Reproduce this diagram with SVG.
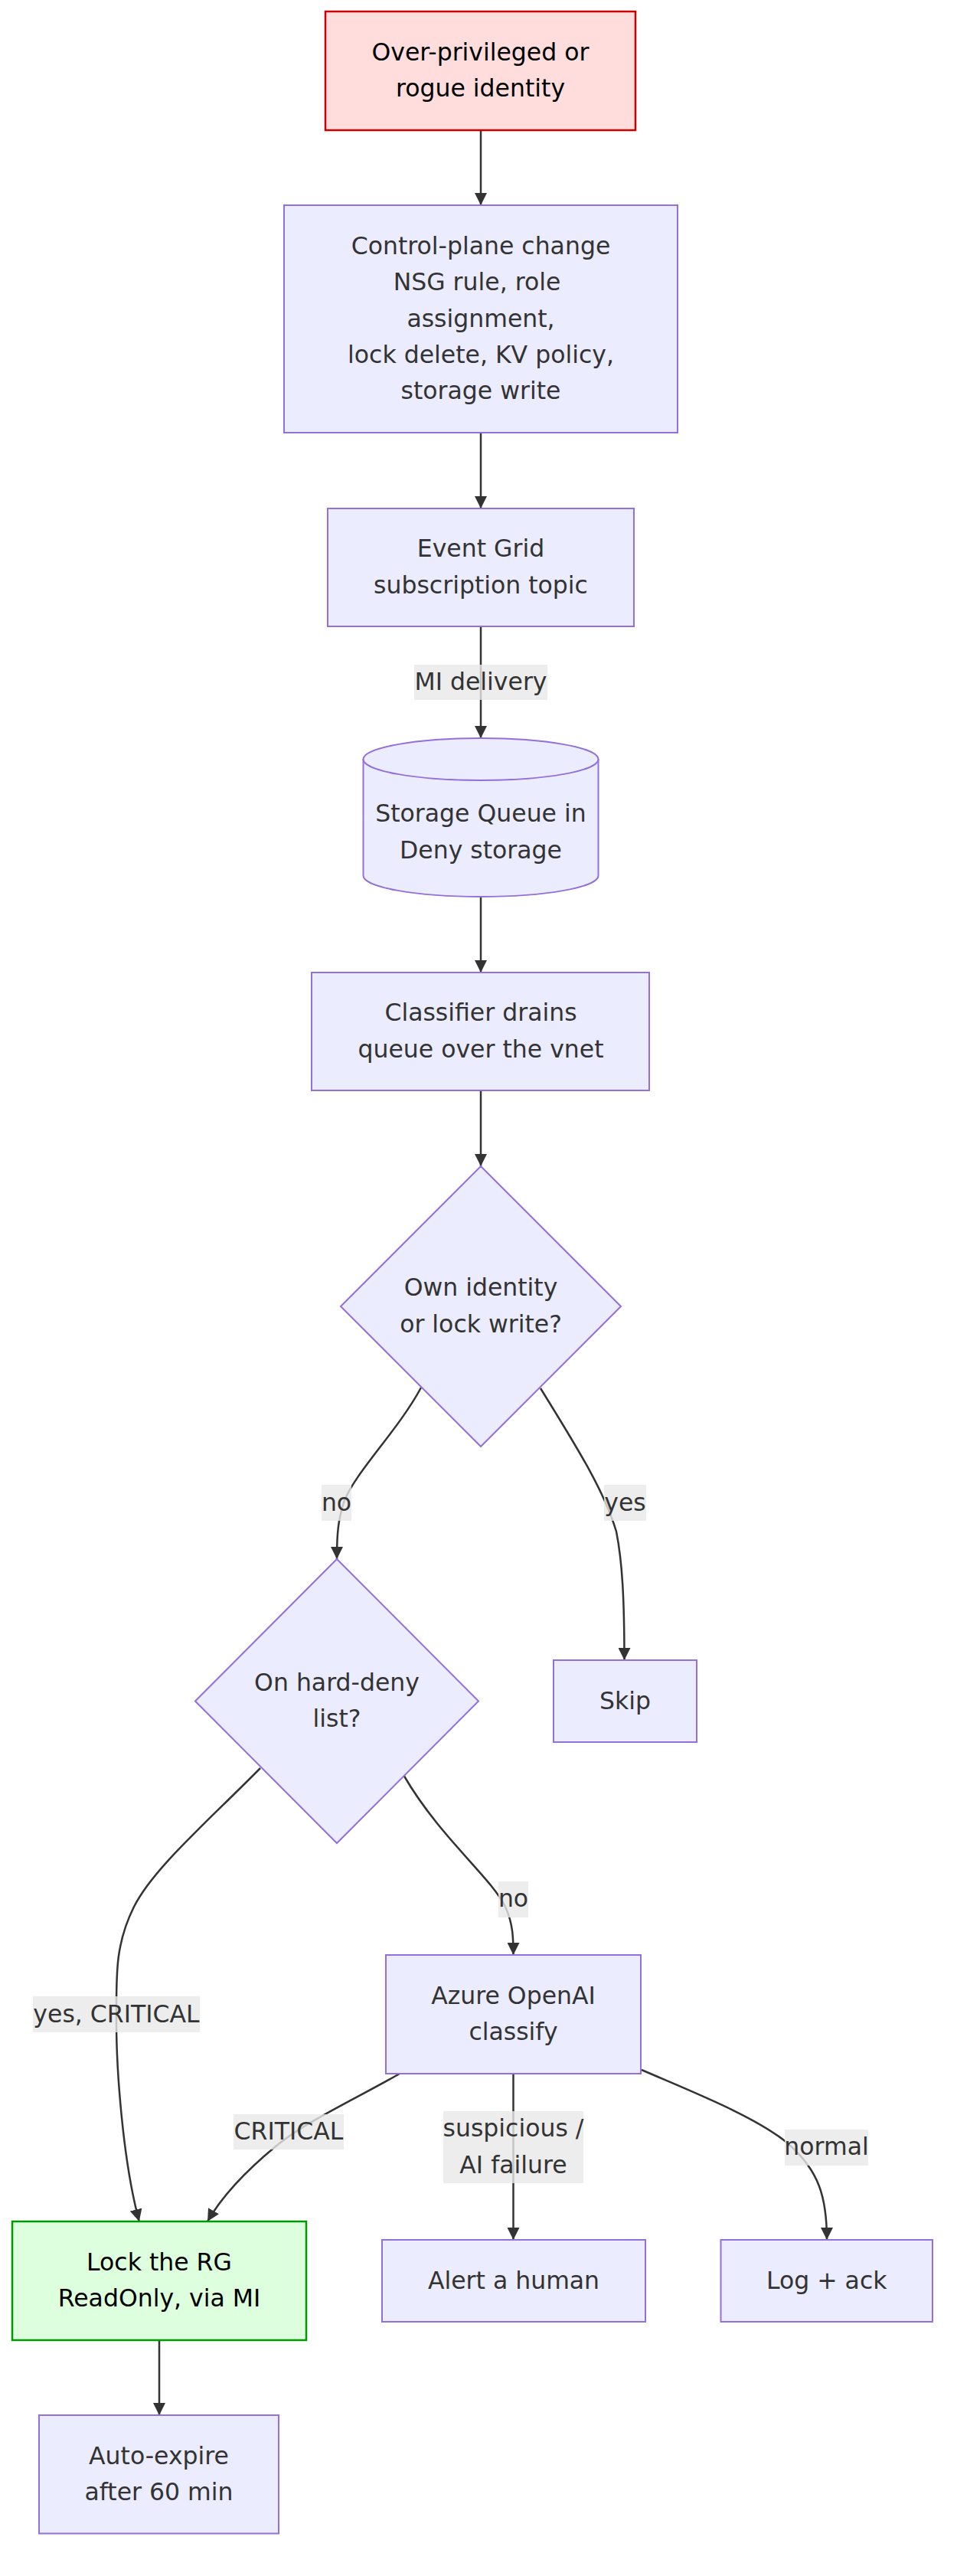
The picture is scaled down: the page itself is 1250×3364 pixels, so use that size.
<svg xmlns="http://www.w3.org/2000/svg" width="1250" height="3364" viewBox="0 0 1250 3364">
<defs>
<style>
text{font-family:"DejaVu Sans","Liberation Sans",sans-serif;font-size:31.5px;fill:#333;text-anchor:middle}
.node{fill:#ECECFF;stroke:#9370DB;stroke-width:2}
.bad{fill:#ffdddd;stroke:#cc0000;stroke-width:2.5}
.good{fill:#ddffdd;stroke:#009900;stroke-width:2.5}
.dark{fill:#000}
.edge{fill:none;stroke:#333;stroke-width:2.5}
.lbl{fill:rgba(232,232,232,0.8)}
</style>
<marker id="arrow" viewBox="0 0 10 10" refX="10" refY="5" markerUnits="userSpaceOnUse" markerWidth="16" markerHeight="16" orient="auto">
<path d="M0,0 L10,5 L0,10 z" fill="#333"/>
</marker>
</defs>
<rect width="1250" height="3364" fill="#fff"/>

<g id="connectors">
<path class="edge" marker-end="url(#arrow)" d="M628,170 L628,268"/>
<path class="edge" marker-end="url(#arrow)" d="M628,565 L628,664"/>
<path class="edge" marker-end="url(#arrow)" d="M628,818 L628,964"/>
<path class="edge" marker-end="url(#arrow)" d="M628,1171 L628,1270"/>
<path class="edge" marker-end="url(#arrow)" d="M628,1424 L628,1523"/>
<path class="edge" marker-end="url(#arrow)" d="M550,1812 C520,1868 462,1925 449,1962 C442,1985 440,2000 440,2036"/>
<path class="edge" marker-end="url(#arrow)" d="M706,1813 C760,1900 790,1950 805,2000 C813,2040 815.5,2090 815.5,2168"/>
<path class="edge" marker-end="url(#arrow)" d="M340,2309 C270,2380 200,2440 175,2490 S152,2580 152,2640 S160,2820 181.8,2901"/>
<path class="edge" marker-end="url(#arrow)" d="M527.7,2319 C575,2400 640,2450 660,2490 C670,2512 670.5,2530 670.5,2553"/>
<path class="edge" marker-end="url(#arrow)" d="M522,2708 C470,2738 400,2770 360,2803 C320,2836 290,2868 271,2901"/>
<path class="edge" marker-end="url(#arrow)" d="M670.5,2708 L670.5,2925"/>
<path class="edge" marker-end="url(#arrow)" d="M838,2703 C900,2730 990,2765 1030,2800 C1070,2835 1080,2870 1080,2925"/>
<path class="edge" marker-end="url(#arrow)" d="M208,3056 L208,3154"/>
</g>

<g id="edge-labels">
<g id="lbl-mi"><rect class="lbl" x="541" y="868" width="174" height="46"/><text x="628" y="901">MI delivery</text></g>
<g id="lbl-no1"><rect class="lbl" x="420" y="1939" width="39" height="47"/><text x="439.5" y="1973">no</text></g>
<g id="lbl-yes1"><rect class="lbl" x="789" y="1939" width="55" height="47"/><text x="816.5" y="1973">yes</text></g>
<g id="lbl-no2"><rect class="lbl" x="651" y="2457" width="39" height="47"/><text x="670.5" y="2490">no</text></g>
<g id="lbl-yescrit"><rect class="lbl" x="43" y="2607" width="218" height="47"/><text x="152" y="2640.5">yes, CRITICAL</text></g>
<g id="lbl-crit"><rect class="lbl" x="305" y="2761" width="144" height="46"/><text x="377" y="2794">CRITICAL</text></g>
<g id="lbl-susp"><rect class="lbl" x="579" y="2757" width="183" height="94"/><text x="670.5" y="2790.4">suspicious /</text><text x="670.5" y="2837.6">AI failure</text></g>
<g id="lbl-normal"><rect class="lbl" x="1025" y="2781" width="109" height="47"/><text x="1079.5" y="2814">normal</text></g>
</g>

<g id="n-rogue"><rect class="bad" x="425" y="15" width="405" height="155"/><text class="dark" x="627.5" y="79">Over-privileged or</text><text class="dark" x="627.5" y="126.3">rogue identity</text></g>

<g id="n-change"><rect class="node" x="371" y="268" width="514" height="297"/>
<text x="628" y="332">Control-plane change</text>
<text x="623" y="379.2">NSG rule, role</text>
<text x="628" y="426.5">assignment,</text>
<text x="628" y="473.7">lock delete, KV policy,</text>
<text x="628" y="521">storage write</text></g>

<g id="n-eventgrid"><rect class="node" x="428" y="664" width="400" height="154"/><text x="628" y="727.4">Event Grid</text><text x="628" y="774.6">subscription topic</text></g>

<g id="n-queue"><path class="node" d="M474.5,991.5 A153.5,27.4 0 0 1 781.5,991.5 L781.5,1143.5 A153.5,27.4 0 0 1 474.5,1143.5 Z"/><path class="node" style="fill:none" d="M474.5,991.5 A153.5,27.4 0 0 0 781.5,991.5"/><text x="628" y="1073.3">Storage Queue in</text><text x="628" y="1121">Deny storage</text></g>

<g id="n-classifier"><rect class="node" x="407" y="1270" width="441" height="154"/><text x="628" y="1333.4">Classifier drains</text><text x="628" y="1380.6">queue over the vnet</text></g>

<g id="n-own"><polygon class="node" points="628,1523 811,1706 628,1889 445,1706"/><text x="628" y="1692.4">Own identity</text><text x="628" y="1739.6">or lock write?</text></g>

<g id="n-harddeny"><polygon class="node" points="440,2036 625,2221.5 440,2407 255,2221.5"/><text x="440" y="2208">On hard-deny</text><text x="440" y="2255">list?</text></g>

<g id="n-skip"><rect class="node" x="723" y="2168" width="187" height="107"/><text x="816.5" y="2232">Skip</text></g>

<g id="n-aoai"><rect class="node" x="504" y="2553" width="333" height="155"/><text x="670.5" y="2617">Azure OpenAI</text><text x="670.5" y="2664.2">classify</text></g>

<g id="n-lock"><rect class="good" x="16" y="2901" width="384" height="155"/><text class="dark" x="208" y="2965">Lock the RG</text><text class="dark" x="208" y="3012.2">ReadOnly, via MI</text></g>

<g id="n-alert"><rect class="node" x="499" y="2925" width="344" height="107"/><text x="671" y="2989">Alert a human</text></g>

<g id="n-log"><rect class="node" x="941.5" y="2925" width="276.5" height="107"/><text x="1079.7" y="2989">Log + ack</text></g>

<g id="n-expire"><rect class="node" x="51" y="3154" width="313" height="154.5"/><text x="207.5" y="3217.6">Auto-expire</text><text x="207.5" y="3264.8">after 60 min</text></g>
</svg>
